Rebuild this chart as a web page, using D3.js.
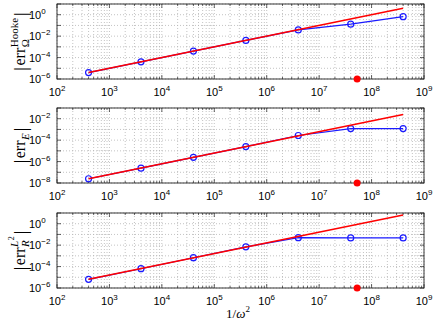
<!DOCTYPE html>
<html>
<head>
<meta charset="utf-8">
<script src="https://cdn.jsdelivr.net/npm/d3@7"></script>
<style>
  body { margin: 0; background: #fff; }
  svg { display: block; }
</style>
</head>
<body>
<div id="chart"></div>
<script>
// x values (1/omega^2) of the computed points
var invOmega2 = [4e2, 4e3, 4e4, 4e5, 4e6, 4e7, 4e8];
// errors
var errHooke  = [4e-6, 4e-5, 4e-4, 4e-3, 3.8e-2, 0.13, 0.66];
var errEnergy = [2.5e-8, 2.4e-7, 2.5e-6, 2.5e-5, 2.7e-4, 1.2e-3, 1.2e-3];
var errL2     = [6.4e-6, 6.3e-5, 6.7e-4, 7e-3, 0.05, 0.047, 0.047];
// slope-1 reference lines (end points)
var refX      = [4e2, 4e8];
var refHooke  = [4e-6, 4];
var refEnergy = [2.5e-8, 2.5e-2];
var refL2     = [6.5e-6, 6.5];
// red marker on the x axis
var markX = [5.3e7];
// tick exponents
var xTickExp  = [2, 3, 4, 5, 6, 7, 8, 9];
var yTickExpA = [-6, -4, -2, 0];
var yTickExpB = [-8, -6, -4, -2];

var W = 436, H = 327;
var left = 57, right = 424, ph = 75;

var svg = d3.select("#chart").append("svg")
    .attr("width", W)
    .attr("height", H);

var x = d3.scaleLog().domain([1e2, 1e9]).range([left, right]);

var panels = [
  {top: 4,   dom: [1e-6, 1e1], vals: errHooke,  ref: refHooke,  ticks: yTickExpA, sub: "\u03A9", sup: "Hooke"},
  {top: 108, dom: [1e-8, 1e-1], vals: errEnergy, ref: refEnergy, ticks: yTickExpB, sub: "E", sup: null},
  {top: 213, dom: [1e-6, 1e1], vals: errL2,     ref: refL2,     ticks: yTickExpA, sub: "R", sup: "L2"}
];

// minor x values (k*10^d)
var xMinor = [];
for (var d = 2; d < 9; d++) {
  for (var k = 1; k < 10; k++) xMinor.push(k * Math.pow(10, d));
}
xMinor.push(1e9);

var tickFont = "'Liberation Sans', Arial, Helvetica, sans-serif";
var mathFont = "'Liberation Serif', 'Times New Roman', serif";

panels.forEach(function(p) {
  var bottom = p.top + ph;
  var y = d3.scaleLog().domain(p.dom).range([bottom, p.top]);
  var g = svg.append("g");

  var lo = Math.round(Math.log10(p.dom[0])), hi = Math.round(Math.log10(p.dom[1]));
  var yDec = d3.range(lo, hi + 1).map(function(e) { return Math.pow(10, e); });

  // grid
  g.selectAll(".gx").data(xMinor).enter().append("line")
    .attr("x1", function(d) { return x(d); })
    .attr("x2", function(d) { return x(d); })
    .attr("y1", p.top).attr("y2", bottom)
    .attr("stroke", "#b4b4b4").attr("stroke-width", 0.8)
    .attr("stroke-dasharray", "1,2");
  g.selectAll(".gy").data(yDec).enter().append("line")
    .attr("x1", left).attr("x2", right)
    .attr("y1", function(d) { return y(d); })
    .attr("y2", function(d) { return y(d); })
    .attr("stroke", "#b4b4b4").attr("stroke-width", 0.8)
    .attr("stroke-dasharray", "1,2");

  // ticks (inward, all four sides)
  g.selectAll(".tb").data(xMinor).enter().append("line")
    .attr("x1", function(d) { return x(d); })
    .attr("x2", function(d) { return x(d); })
    .attr("y1", bottom)
    .attr("y2", function(d) { return bottom - (Math.abs(Math.log10(d) % 1) < 1e-9 ? 4 : 2); })
    .attr("stroke", "#222").attr("stroke-width", 0.7);
  g.selectAll(".tt").data(xMinor).enter().append("line")
    .attr("x1", function(d) { return x(d); })
    .attr("x2", function(d) { return x(d); })
    .attr("y1", p.top)
    .attr("y2", function(d) { return p.top + (Math.abs(Math.log10(d) % 1) < 1e-9 ? 4 : 2); })
    .attr("stroke", "#222").attr("stroke-width", 0.7);
  g.selectAll(".tl").data(yDec).enter().append("line")
    .attr("x1", left).attr("x2", left + 4)
    .attr("y1", function(d) { return y(d); })
    .attr("y2", function(d) { return y(d); })
    .attr("stroke", "#222").attr("stroke-width", 0.7);
  g.selectAll(".tr").data(yDec).enter().append("line")
    .attr("x1", right).attr("x2", right - 4)
    .attr("y1", function(d) { return y(d); })
    .attr("y2", function(d) { return y(d); })
    .attr("stroke", "#222").attr("stroke-width", 0.7);

  // frame
  g.append("rect")
    .attr("x", left).attr("y", p.top)
    .attr("width", right - left).attr("height", ph)
    .attr("fill", "none").attr("stroke", "#222").attr("stroke-width", 0.9);

  // x tick labels
  var xl = g.selectAll(".xl").data(xTickExp).enter().append("text")
    .attr("x", function(e) { return x(Math.pow(10, e)); })
    .attr("y", bottom + 17)
    .attr("text-anchor", "middle")
    .style("font-family", tickFont)
    .style("font-size", "11px");
  xl.append("tspan").text("10");
  xl.append("tspan").attr("dy", -5).style("font-size", "8px").text(function(e) { return e; });

  // y tick labels
  var yl = g.selectAll(".yl").data(p.ticks).enter().append("text")
    .attr("x", 29)
    .attr("y", function(e) { return y(Math.pow(10, e)) + 4; })
    .style("font-family", tickFont)
    .style("font-size", "11px");
  yl.append("tspan").text("10");
  yl.append("tspan").attr("dy", -5).style("font-size", "8px")
    .text(function(e) { return e < 0 ? "\u2212" + (-e) : e; });

  // data and reference lines
  var line = d3.line()
    .x(function(d) { return x(d[0]); })
    .y(function(d) { return y(d[1]); });

  g.append("path")
    .datum(invOmega2.map(function(v, i) { return [v, p.vals[i]]; }))
    .attr("d", line)
    .attr("fill", "none").attr("stroke", "#1a1aff").attr("stroke-width", 1.2);
  g.selectAll(".pt").data(invOmega2).enter().append("circle")
    .attr("cx", function(d) { return x(d); })
    .attr("cy", function(d, i) { return y(p.vals[i]); })
    .attr("r", 3)
    .attr("fill", "none").attr("stroke", "#1a1aff").attr("stroke-width", 1.2);

  g.append("path")
    .datum(refX.map(function(v, i) { return [v, p.ref[i]]; }))
    .attr("d", line)
    .attr("fill", "none").attr("stroke", "#ff0000").attr("stroke-width", 1.5);

  // red marker on the axis
  g.selectAll(".mk").data(markX).enter().append("circle")
    .attr("cx", function(d) { return x(d); })
    .attr("cy", bottom)
    .attr("r", 3.5)
    .attr("fill", "#ff0000");

  // y label |err_sub^sup|
  var lab = g.append("g");
  var pos = 0;
  function piece(t, size, dy, italic) {
    var el = lab.append("text")
      .attr("x", pos).attr("y", dy)
      .style("font-family", mathFont)
      .style("font-size", size + "px")
      .style("font-style", italic ? "italic" : "normal")
      .text(t);
    return el;
  }
  var bar1 = piece("|", 18, 2, false);
  pos += bar1.node().getComputedTextLength() + 1.5;
  var err = piece("err", 16, 0, false);
  pos += err.node().getComputedTextLength() + 0.5;
  var start = pos, w = 0;
  var s = piece(p.sub, 11, 4, p.sub !== "\u03A9");
  w = s.node().getComputedTextLength();
  if (p.sup === "Hooke") {
    var h = piece("Hooke", 11, -7, false);
    w = Math.max(w, h.node().getComputedTextLength());
  } else if (p.sup === "L2") {
    var l = piece("L", 11, -7, true);
    pos += l.node().getComputedTextLength() + 0.5;
    var two = piece("2", 8, -11, false);
    w = Math.max(w, pos + two.node().getComputedTextLength() - start);
  }
  pos = start + w + 2;
  var bar2 = piece("|", 18, 2, false);
  pos += bar2.node().getComputedTextLength();
  var cy = p.top + ph / 2;
  lab.attr("transform", "translate(25," + (cy + pos / 2) + ") rotate(-90)");
});

// x axis label 1/omega^2
var xt = svg.append("text")
  .attr("x", 238).attr("y", 318)
  .attr("text-anchor", "middle")
  .style("font-family", mathFont)
  .style("font-size", "13px");
xt.append("tspan").text("1/");
xt.append("tspan").style("font-style", "italic").text("\u03C9");
xt.append("tspan").attr("dy", -6).style("font-size", "9px").text("2");
</script>
</body>
</html>
